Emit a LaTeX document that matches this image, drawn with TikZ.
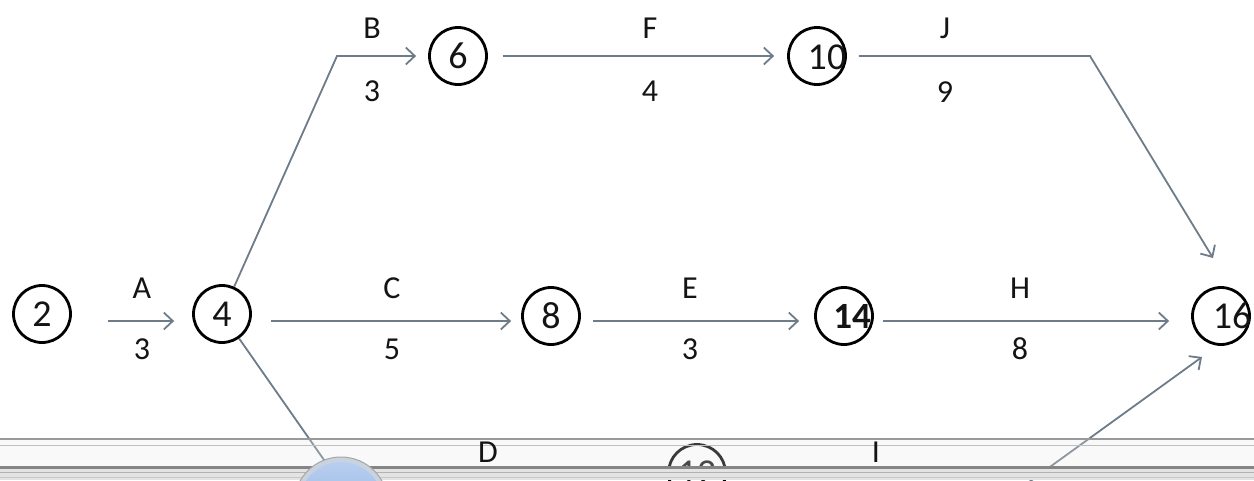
\documentclass[tikz,border=0pt]{standalone}
\usepackage{fontspec}
\setmainfont{Carlito}
\usetikzlibrary{arrows.meta}
\definecolor{arr}{HTML}{6E7C8A}
\definecolor{txt}{HTML}{141414}
\definecolor{orbin}{HTML}{7FA3DD}
\definecolor{orbtop}{HTML}{B9CFF0}
\definecolor{orbring}{HTML}{C9D3E0}
\begin{document}
\begin{tikzpicture}[x=1pt,y=-1pt,
  ev/.style={circle,draw=black,line width=2.8pt,minimum size=57pt,inner sep=0pt,font=\fontsize{38}{38}\selectfont,text=txt},
  evnum/.style={font=\fontsize{38}{38}\selectfont,text=txt,inner sep=0pt},
  act/.style={draw=arr,line width=1.8pt,-{Straight Barb[length=9pt,width=17pt,line width=1.8pt]}},
  seg/.style={draw=arr,line width=1.8pt},
  lbl/.style={font=\fontsize{32}{32}\selectfont,text=txt,inner sep=0pt}]
\useasboundingbox (0,0) rectangle (1254,480);
\clip (0,0) rectangle (1254,480);
\fill[white] (0,0) rectangle (1254,480);

% events
\node[ev] (n2) at (42,314) {2};
\node[ev] (n4) at (222,314) {4};
\node[ev] (n8) at (551,316) {8};
\node[ev] (n14) at (844,316) {};
\node[evnum,font=\bfseries\fontsize{37}{37}\selectfont] (t14) at (852,316) {14};
\node[ev] (n16) at (1221,316) {};
\node[evnum] (t16) at (1232,316) {16};
\node[ev] (n6) at (458,56) {6};
\node[ev] (n10) at (817,56) {};
\node[evnum] (t10) at (827,57) {10};
\node[ev] (n12) at (697,473) {12};

% bend points
\coordinate (bc) at (337,56);
\coordinate (jc) at (1090,56);
\coordinate (jend) at (1213,258);
\coordinate (dend) at (366,520);
\coordinate (istart) at (1000,503);
\coordinate (iend) at (1202,357);

% activities
\draw[act,shorten <=36pt,shorten >=18pt] ([yshift=-7pt]n2.east) -- ([yshift=-7pt]n4.west);
\draw[act,shorten <=19pt,shorten >=10pt] ([yshift=-7pt]n4.east) -- ([yshift=-5pt]n8.west);
\draw[act,shorten <=12pt,shorten >=15pt] ([yshift=-5pt]n8.east) -- ([yshift=-5pt]n14.west);
\draw[act,shorten <=9pt,shorten >=22pt] ([yshift=-5pt]n14.east) -- ([yshift=-5pt]n16.west);
\draw[act,shorten >=12pt] (n4) -- (bc) -- (n6.west);
\draw[act,shorten <=15pt,shorten >=13pt] (n6.east) -- (n10.west);
\draw[act,shorten <=12pt] (n10.east) -- (jc) -- (jend);
\draw[seg] (n4) -- (dend);
\draw[act] (istart) -- (iend);

% labels
\node[lbl] (lA) at (142,288) {A};
\node[lbl] (dA) at (142,349) {3};
\node[lbl] (lC) at (392,288) {C};
\node[lbl] (dC) at (392,349) {5};
\node[lbl] (lE) at (690,288) {E};
\node[lbl] (dE) at (690,349) {3};
\node[lbl] (lH) at (1020,288) {H};
\node[lbl] (dH) at (1020,349) {8};
\node[lbl] (lB) at (372,28) {B};
\node[lbl] (dB) at (372,91) {3};
\node[lbl] (lF) at (650,28) {F};
\node[lbl] (dF) at (650,91) {4};
\node[lbl] (lJ) at (945,28) {J};
\node[lbl] (dJ) at (945,92) {9};

% taskbar overlay
\fill[black!8,opacity=0.25] (0,438) rectangle (1254,466);
\draw[black!40,line width=2pt] (0,439) -- (1254,439);
\draw[black!25,line width=1.5pt] (0,445.5) -- (1254,445.5);
\node[lbl] (lD) at (488,452) {D};
\node[lbl] (lI) at (876,452) {I};
\fill[black!11] (0,466) rectangle (1254,480);
\draw[black!48,line width=3pt] (0,467.5) -- (1254,467.5);
\draw[black!30,line width=1.5pt] (0,472.5) -- (1254,472.5);
\draw[black!22,line width=1pt] (0,477.5) -- (1254,477.5);
% start orb
\fill[orbring] (341,504) circle (47pt);
\draw[black!35,line width=1pt] (341,504) circle (47pt);
\shade[top color=orbtop,bottom color=orbin] (341,504) circle (42pt);
\end{tikzpicture}
\end{document}
